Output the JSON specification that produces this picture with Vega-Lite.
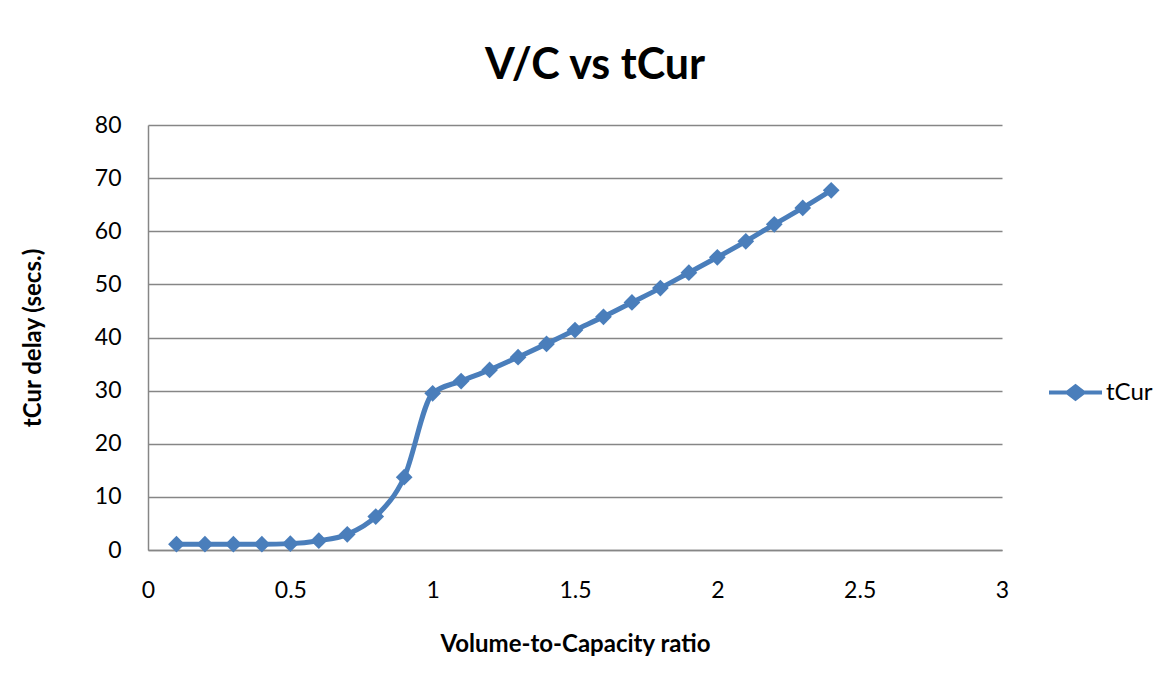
{
  "$schema": "https://vega.github.io/schema/vega-lite/v6.json",
  "width": 854,
  "height": 425,
  "autosize": {"type": "none"},
  "padding": {"left": 148, "top": 125, "right": 168, "bottom": 137},
  "background": "white",
  "title": {
    "text": "V/C vs tCur",
    "font": "Lato",
    "fontSize": 43,
    "fontWeight": "bold",
    "color": "black",
    "anchor": "middle",
    "dx": 20,
    "offset": 26
  },
  "config": {
    "view": {"stroke": null},
    "axis": {
      "labelFont": "Lato",
      "labelFontSize": 23,
      "labelColor": "black",
      "titleFont": "Lato",
      "titleFontSize": 24,
      "titleFontWeight": "bold",
      "titleColor": "black",
      "domainColor": "#868686",
      "domainWidth": 1.5,
      "gridColor": "#868686",
      "gridWidth": 1.5,
      "ticks": false,
      "tickSize": 0
    }
  },
  "data": {
    "values": [
      {"vc": 0.1, "tCur": 1.1, "series": "tCur"},
      {"vc": 0.2, "tCur": 1.1, "series": "tCur"},
      {"vc": 0.3, "tCur": 1.1, "series": "tCur"},
      {"vc": 0.4, "tCur": 1.1, "series": "tCur"},
      {"vc": 0.5, "tCur": 1.2, "series": "tCur"},
      {"vc": 0.6, "tCur": 1.75, "series": "tCur"},
      {"vc": 0.7, "tCur": 2.95, "series": "tCur"},
      {"vc": 0.8, "tCur": 6.3, "series": "tCur"},
      {"vc": 0.9, "tCur": 13.7, "series": "tCur"},
      {"vc": 1.0, "tCur": 29.5, "series": "tCur"},
      {"vc": 1.1, "tCur": 31.8, "series": "tCur"},
      {"vc": 1.2, "tCur": 33.9, "series": "tCur"},
      {"vc": 1.3, "tCur": 36.3, "series": "tCur"},
      {"vc": 1.4, "tCur": 38.8, "series": "tCur"},
      {"vc": 1.5, "tCur": 41.4, "series": "tCur"},
      {"vc": 1.6, "tCur": 43.9, "series": "tCur"},
      {"vc": 1.7, "tCur": 46.6, "series": "tCur"},
      {"vc": 1.8, "tCur": 49.3, "series": "tCur"},
      {"vc": 1.9, "tCur": 52.2, "series": "tCur"},
      {"vc": 2.0, "tCur": 55.1, "series": "tCur"},
      {"vc": 2.1, "tCur": 58.1, "series": "tCur"},
      {"vc": 2.2, "tCur": 61.3, "series": "tCur"},
      {"vc": 2.3, "tCur": 64.4, "series": "tCur"},
      {"vc": 2.4, "tCur": 67.7, "series": "tCur"}
    ]
  },
  "mark": {
    "type": "line",
    "interpolate": "monotone",
    "strokeWidth": 5,
    "point": {"shape": "diamond", "size": 280, "filled": true, "opacity": 1}
  },
  "encoding": {
    "x": {
      "field": "vc",
      "type": "quantitative",
      "scale": {"domain": [0, 3], "nice": false},
      "axis": {
        "title": "Volume-to-Capacity ratio",
        "values": [0, 0.5, 1, 1.5, 2, 2.5, 3],
        "format": "~g",
        "grid": false,
        "labelPadding": 29,
        "titlePadding": 30,
        "labelFlush": false
      }
    },
    "y": {
      "field": "tCur",
      "type": "quantitative",
      "scale": {"domain": [0, 80], "nice": false},
      "axis": {
        "title": "tCur delay (secs.)",
        "values": [0, 10, 20, 30, 40, 50, 60, 70, 80],
        "grid": true,
        "labelPadding": 27,
        "titlePadding": 49
      }
    },
    "color": {
      "field": "series",
      "type": "nominal",
      "scale": {"domain": ["tCur"], "range": ["#4A7EBB"]},
      "legend": {
        "title": null,
        "orient": "none",
        "legendX": 901,
        "legendY": 241,
        "padding": 0,
        "labelFont": "Lato",
        "labelFontSize": 24,
        "labelColor": "black",
        "labelOffset": 4,
        "symbolType": "M-1,-0.08 L-0.33,-0.08 L0,-0.33 L0.33,-0.08 L1,-0.08 L1,0.08 L0.33,0.08 L0,0.33 L-0.33,0.08 L-1,0.08 Z",
        "symbolSize": 2809,
        "symbolFillColor": "#4A7EBB",
        "symbolStrokeWidth": 0,
        "encode": {
          "symbols": {
            "update": {
              "fill": {"value": "#4A7EBB"},
              "stroke": {"value": "transparent"},
              "strokeWidth": {"value": 0}
            }
          }
        }
      }
    }
  }
}
